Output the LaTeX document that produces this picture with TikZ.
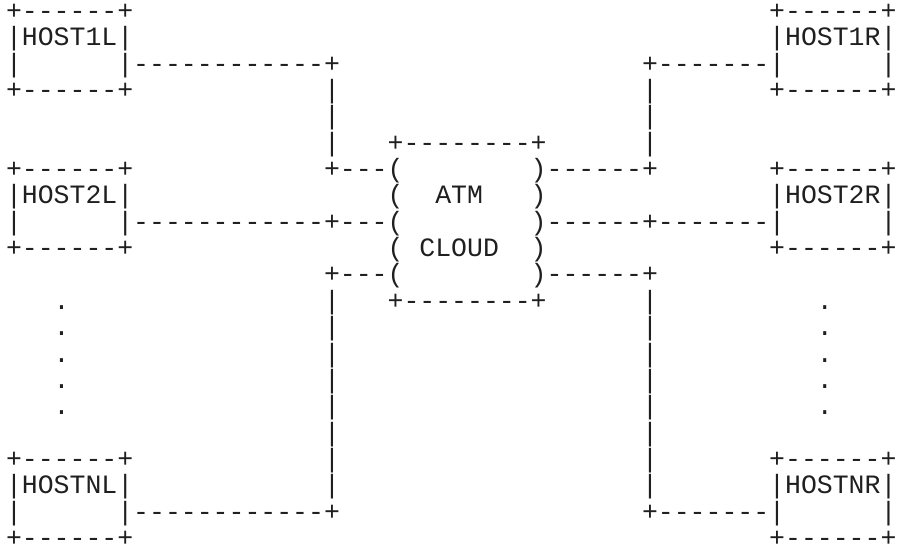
\documentclass[tikz,border=0pt]{standalone}
\usepackage{fontspec}
\newfontfamily\asciimono{Liberation Mono}[Ligatures=TeXOff]
\tikzset{txt/.style={anchor=base west,inner sep=0pt,outer sep=0pt,text=black!88,font=\asciimono\fontsize{13.25}{13.25}\selectfont}}
\newcommand\frag[4]{\node[txt] (#1) at (#2+0.3774,#3+0.74) {#4};}
\begin{document}
\begin{tikzpicture}[x=7.95pt,y=-13.175pt]
\useasboundingbox (0,0) rectangle (56.478,20.873);
% row 0
\frag{a0}{0}{0}{+------+}
\frag{b0}{48}{0}{+------+}
% row 1
\frag{h1l}{0}{1}{|HOST1L|}
\frag{h1r}{48}{1}{|HOST1R|}
% row 2
\frag{a2}{0}{2}{|}
\frag{b2}{7}{2}{|------------+}
\frag{c2}{40}{2}{+-------|}
\frag{d2}{55}{2}{|}
% row 3
\frag{a3}{0}{3}{+------+}
\frag{b3}{20}{3}{|}
\frag{c3}{40}{3}{|}
\frag{d3}{48}{3}{+------+}
% row 4
\frag{a4}{20}{4}{|}
\frag{b4}{40}{4}{|}
% row 5
\frag{a5}{20}{5}{|}
\frag{b5}{24}{5}{+--------+}
\frag{c5}{40}{5}{|}
% row 6
\frag{a6}{0}{6}{+------+}
\frag{b6}{20}{6}{+---(}
\frag{c6}{33}{6}{)------+}
\frag{d6}{48}{6}{+------+}
% row 7
\frag{h2l}{0}{7}{|HOST2L|}
\frag{b7}{24}{7}{(}
\frag{atm}{27}{7}{ATM}
\frag{c7}{33}{7}{)}
\frag{h2r}{48}{7}{|HOST2R|}
% row 8
\frag{a8}{0}{8}{|}
\frag{b8}{7}{8}{|------------+---(}
\frag{c8}{33}{8}{)------+-------|}
\frag{d8}{55}{8}{|}
% row 9
\frag{a9}{0}{9}{+------+}
\frag{b9}{24}{9}{(}
\frag{cloud}{26}{9}{CLOUD}
\frag{c9}{33}{9}{)}
\frag{d9}{48}{9}{+------+}
% row 10
\frag{a10}{20}{10}{+---(}
\frag{b10}{33}{10}{)------+}
% row 11
\frag{a11}{3}{11}{.}
\frag{b11}{20}{11}{|}
\frag{c11}{24}{11}{+--------+}
\frag{d11}{40}{11}{|}
\frag{e11}{51}{11}{.}
% rows 12-15
\frag{a12}{3}{12}{.}
\frag{b12}{20}{12}{|}
\frag{c12}{40}{12}{|}
\frag{d12}{51}{12}{.}
\frag{a13}{3}{13}{.}
\frag{b13}{20}{13}{|}
\frag{c13}{40}{13}{|}
\frag{d13}{51}{13}{.}
\frag{a14}{3}{14}{.}
\frag{b14}{20}{14}{|}
\frag{c14}{40}{14}{|}
\frag{d14}{51}{14}{.}
\frag{a15}{3}{15}{.}
\frag{b15}{20}{15}{|}
\frag{c15}{40}{15}{|}
\frag{d15}{51}{15}{.}
% row 16
\frag{a16}{20}{16}{|}
\frag{b16}{40}{16}{|}
% row 17
\frag{a17}{0}{17}{+------+}
\frag{b17}{20}{17}{|}
\frag{c17}{40}{17}{|}
\frag{d17}{48}{17}{+------+}
% row 18
\frag{hnl}{0}{18}{|HOSTNL|}
\frag{b18}{20}{18}{|}
\frag{c18}{40}{18}{|}
\frag{hnr}{48}{18}{|HOSTNR|}
% row 19
\frag{a19}{0}{19}{|}
\frag{b19}{7}{19}{|------------+}
\frag{c19}{40}{19}{+-------|}
\frag{d19}{55}{19}{|}
% row 20
\frag{a20}{0}{20}{+------+}
\frag{b20}{48}{20}{+------+}
\end{tikzpicture}
\end{document}
